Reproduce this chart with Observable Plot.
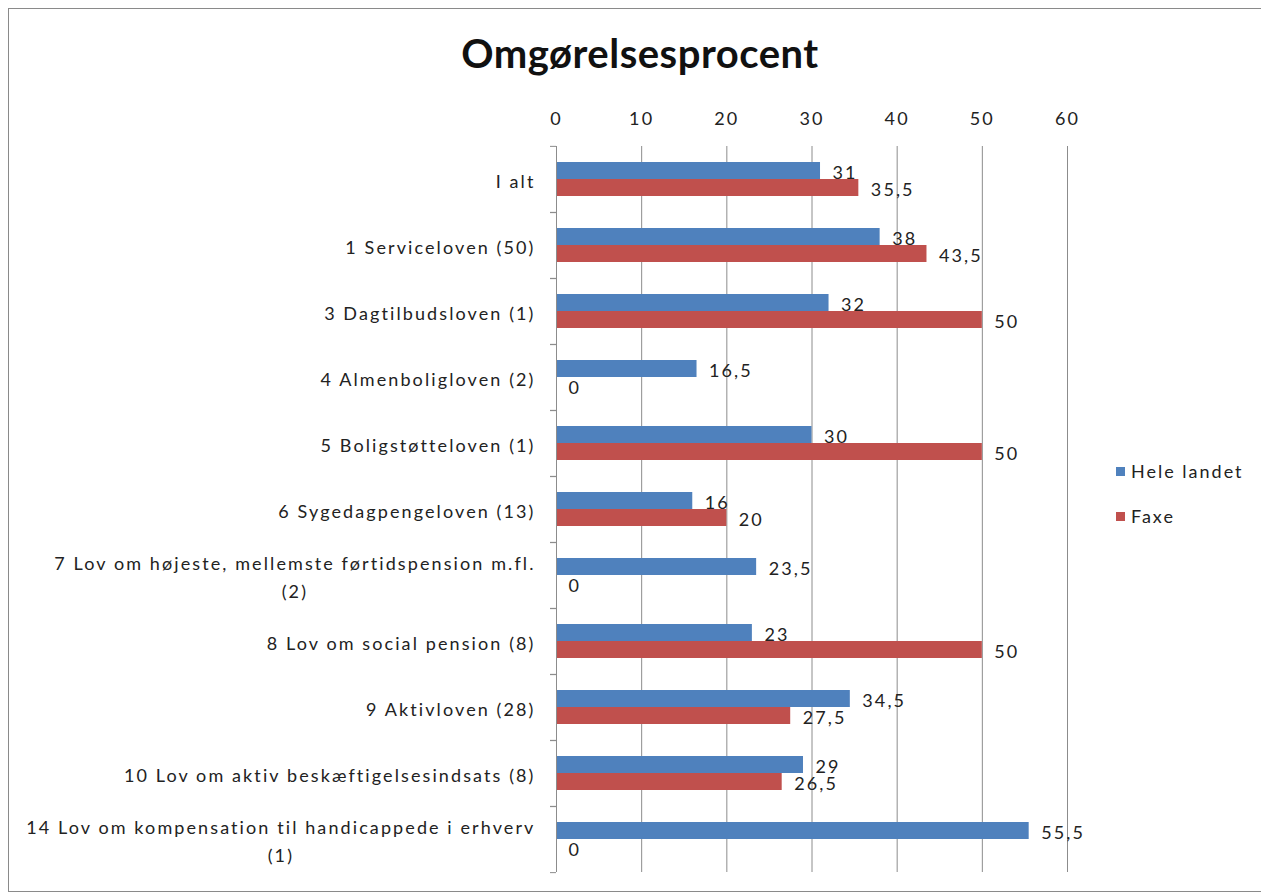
<!DOCTYPE html>
<html>
<head>
<meta charset="utf-8">
<script src="https://cdn.jsdelivr.net/npm/d3@7"></script>
<script src="https://cdn.jsdelivr.net/npm/@observablehq/plot@0.6"></script>
<style>
  html, body { margin: 0; padding: 0; background: #fff; }
  body { width: 1261px; height: 895px; position: relative; overflow: hidden; font-family: Lato, "Open Sans", sans-serif; }
  #frame { position: absolute; left: 8px; top: 8px; width: 1270px; height: 884px; border: 1px solid #8a8a8a; box-sizing: border-box; }
  #title { position: absolute; left: 0; width: 1280px; top: 29px; text-align: center; font-size: 40px; font-weight: bold; letter-spacing: 0.5px; color: #111; }
  #chart { position: absolute; left: 0; top: 0; }
  #legend { position: absolute; left: 1116px; top: 460px; font-size: 18px; letter-spacing: 2px; color: #222; }
  .item { display: flex; align-items: center; height: 22px; margin-bottom: 23px; }
  .sw { width: 9px; height: 9px; margin-right: 6px; }
</style>
</head>
<body>
<div id="frame"></div>
<div id="title">Omgørelsesprocent</div>
<div id="chart"></div>
<div id="legend"></div>
<script>
const categories = [
  "I alt",
  "1 Serviceloven (50)",
  "3 Dagtilbudsloven (1)",
  "4 Almenboligloven (2)",
  "5 Boligstøtteloven (1)",
  "6 Sygedagpengeloven (13)",
  "7 Lov om højeste, mellemste førtidspension m.fl. (2)",
  "8 Lov om social pension (8)",
  "9 Aktivloven (28)",
  "10 Lov om aktiv beskæftigelsesindsats (8)",
  "14 Lov om kompensation til handicappede i erhverv (1)"
];
const categoryLabels = [
  "I alt",
  "1 Serviceloven (50)",
  "3 Dagtilbudsloven (1)",
  "4 Almenboligloven (2)",
  "5 Boligstøtteloven (1)",
  "6 Sygedagpengeloven (13)",
  "7 Lov om højeste, mellemste førtidspension m.fl.\n(2)",
  "8 Lov om social pension (8)",
  "9 Aktivloven (28)",
  "10 Lov om aktiv beskæftigelsesindsats (8)",
  "14 Lov om kompensation til handicappede i erhverv\n(1)"
];
const seriesNames = ["Hele landet", "Faxe"];
const seriesColors = ["#4F81BD", "#C0504D"];
const heleLandet = [31, 38, 32, 16.5, 30, 16, 23.5, 23, 34.5, 29, 55.5];
const faxe = [35.5, 43.5, 50, 0, 50, 20, 0, 50, 27.5, 26.5, 0];
const xTicks = [0, 10, 20, 30, 40, 50, 60];

const data = [];
categories.forEach((c, i) => {
  data.push({category: c, series: seriesNames[0], value: heleLandet[i]});
  data.push({category: c, series: seriesNames[1], value: faxe[i]});
});
const labelOf = new Map(categories.map((c, i) => [c, categoryLabels[i]]));
const fmt = v => String(v).replace(".", ",");

const W = 1261, H = 895, mT = 144, mB = 22, mL = 556, mR = 194;
const band = (H - mT - mB) / categories.length;

const chart = Plot.plot({
  width: W,
  height: H,
  marginLeft: mL,
  marginRight: mR,
  marginTop: mT,
  marginBottom: mB,
  style: {fontFamily: "Lato, 'Open Sans', sans-serif", fontSize: "18px", letterSpacing: "2.1px", color: "#222", background: "transparent"},
  x: {domain: [0, 60], axis: null, label: null},
  y: {domain: seriesNames, paddingInner: 0, paddingOuter: 0.9, axis: null, label: null},
  fy: {domain: categories, padding: 0, axis: null, label: null},
  color: {domain: seriesNames, range: seriesColors},
  marks: [
    Plot.gridX(xTicks, {stroke: "#8c8c8c", strokeOpacity: 1}),
    Plot.axisX(xTicks, {anchor: "top", label: null, tickSize: 0, tickPadding: 22, fontSize: 18, fill: "#222", tickFormat: d => String(d)}),
    Plot.barX(data, {fy: "category", y: "series", x: "value", fill: "series"}),
    Plot.text(data, {fy: "category", y: "series", x: "value", text: d => fmt(d.value), textAnchor: "start", dx: 12, dy: 2, fill: "#222", fontSize: 18}),
    Plot.ruleX([0], {stroke: "#8c8c8c"}),
    Plot.axisFy({anchor: "left", label: null, tickSize: 6, tickFormat: () => "", dy: -band / 2, stroke: "#8c8c8c"}),
    Plot.axisFy(categories.slice(-1), {anchor: "left", label: null, tickSize: 6, tickFormat: () => "", dy: band / 2, stroke: "#8c8c8c"}),
    Plot.axisFy({anchor: "left", label: null, tickSize: 0, tickPadding: 21, fontSize: 18, fill: "#222", lineHeight: 1.55, tickFormat: c => labelOf.get(c)})
  ]
});
document.getElementById("chart").appendChild(chart);

// Center wrapped continuation lines under the first line (as in the original)
chart.querySelectorAll("text").forEach(t => {
  const spans = t.querySelectorAll("tspan");
  if (spans.length > 1) {
    const w = spans[0].getComputedTextLength();
    t.setAttribute("text-anchor", "middle");
    spans.forEach(s => s.setAttribute("x", -w / 2));
  }
});

const legend = document.getElementById("legend");
seriesNames.forEach((s, i) => {
  const item = document.createElement("div");
  item.className = "item";
  const sw = document.createElement("div");
  sw.className = "sw";
  sw.style.background = seriesColors[i];
  const lab = document.createElement("span");
  lab.textContent = s;
  item.appendChild(sw);
  item.appendChild(lab);
  legend.appendChild(item);
});
</script>
</body>
</html>
